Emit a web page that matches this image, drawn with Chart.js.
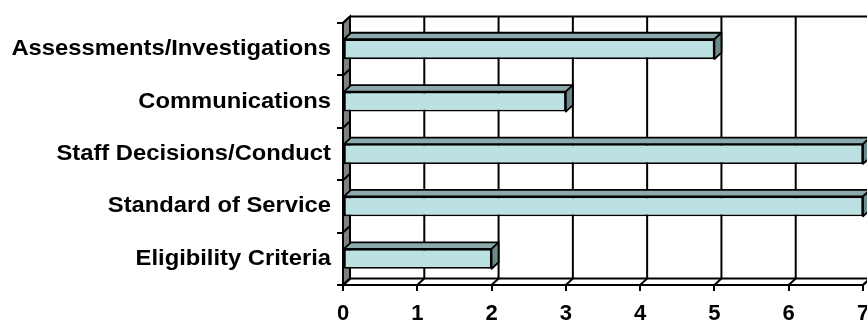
<!DOCTYPE html>
<html lang="en">
<head>
  <meta charset="UTF-8">
  <title>Complaints by category</title>
  <script src="https://cdn.jsdelivr.net/npm/chart.js@4/dist/chart.umd.min.js"></script>
  <style>
    body { margin: 0; background: #fff; }
    #complaints { display: block; }
  </style>
</head>
<body>
  <canvas id="complaints" width="867" height="321"></canvas>
<script>
const categories = [
  'Assessments/Investigations',
  'Communications',
  'Staff Decisions/Conduct',
  'Standard of Service',
  'Eligibility Criteria'
];
const counts = [5, 3, 7, 7, 2];
const xTicks = [0, 1, 2, 3, 4, 5, 6, 7];

// depth of the fake 3d box
const dx = 7;
const dy = 6.5;
const fontFamily = "'Liberation Sans', Arial, sans-serif";

function poly(ctx, pts, fill) {
  ctx.beginPath();
  ctx.moveTo(pts[0][0], pts[0][1]);
  for (let i = 1; i < pts.length; i++) ctx.lineTo(pts[i][0], pts[i][1]);
  ctx.closePath();
  if (fill) {
    ctx.fillStyle = fill;
    ctx.fill();
  }
  ctx.stroke();
}

function line(ctx, x1, y1, x2, y2) {
  ctx.beginPath();
  ctx.moveTo(x1, y1);
  ctx.lineTo(x2, y2);
  ctx.stroke();
}

const box3d = {
  id: 'box3d',
  beforeDatasetsDraw(chart) {
    const ctx = chart.ctx;
    const a = chart.chartArea;
    const x = chart.scales.x;
    const y = chart.scales.y;
    ctx.save();
    ctx.strokeStyle = '#000';
    ctx.lineWidth = 2;

    // back wall gridlines + top edge
    xTicks.forEach(v => {
      const px = x.getPixelForValue(v) + dx;
      line(ctx, px, a.top - dy, px, a.bottom - dy);
    });
    line(ctx, a.left + dx, a.top - dy, chart.width + 10, a.top - dy);

    // floor
    poly(ctx, [[a.left, a.bottom], [a.left + dx, a.bottom - dy],
               [a.right + dx, a.bottom - dy], [a.right, a.bottom]], '#fff');
    xTicks.forEach(v => {
      const px = x.getPixelForValue(v);
      line(ctx, px, a.bottom, px + dx, a.bottom - dy);
    });

    // left wall
    poly(ctx, [[a.left, a.top], [a.left + dx, a.top - dy],
               [a.left + dx, a.bottom - dy], [a.left, a.bottom]], '#808080');
    for (let i = 0; i <= categories.length; i++) {
      const py = y.getPixelForValue(i - 0.5);
      line(ctx, a.left, py, a.left + dx, py - dy);
    }
    ctx.restore();
  },
  afterDatasetsDraw(chart) {
    const ctx = chart.ctx;
    const meta = chart.getDatasetMeta(0);
    ctx.save();
    ctx.strokeStyle = '#000';
    ctx.lineWidth = 1.8;
    ctx.lineJoin = 'round';
    meta.data.forEach(bar => {
      const p = bar.getProps(['x', 'y', 'base', 'height'], true);
      const top = p.y - p.height / 2;
      const bottom = p.y + p.height / 2;
      poly(ctx, [[p.base, top], [p.base + dx, top - dy], [p.x + dx, top - dy], [p.x, top]], '#8ca9ac');
      poly(ctx, [[p.x, top], [p.x + dx, top - dy], [p.x + dx, bottom - dy], [p.x, bottom]], '#6a8a8c');
    });
    ctx.restore();
  },
  afterDraw(chart) {
    // category labels, a bit wider than the plain font like the original
    const ctx = chart.ctx;
    const y = chart.scales.y;
    const right = chart.chartArea.left - 12;
    ctx.save();
    ctx.fillStyle = '#000';
    ctx.font = 'bold 22px ' + fontFamily;
    ctx.textAlign = 'right';
    ctx.textBaseline = 'alphabetic';
    y.ticks.forEach((t, i) => {
      ctx.save();
      ctx.translate(right, y.getPixelForValue(i) + 6);
      ctx.scale(1.08, 1);
      ctx.fillText(y.getLabelForValue(t.value), 0, 0);
      ctx.restore();
    });
    ctx.restore();
  }
};

document.addEventListener('DOMContentLoaded', () => {
  const ctx = document.getElementById('complaints').getContext('2d');
  new Chart(ctx, {
    type: 'bar',
    data: {
      labels: categories,
      datasets: [{
        data: counts,
        backgroundColor: '#bce1e3',
        borderColor: '#000',
        borderWidth: 1.8,
        borderSkipped: false,
        categoryPercentage: 1,
        barPercentage: 0.38
      }]
    },
    options: {
      indexAxis: 'y',
      responsive: false,
      animation: false,
      devicePixelRatio: 1,
      layout: { padding: { top: 23, left: 0, right: 0, bottom: 0 } },
      plugins: { legend: { display: false }, tooltip: { enabled: false } },
      scales: {
        x: {
          min: 0,
          max: 7,
          ticks: {
            stepSize: 1, color: '#000', padding: 10, maxRotation: 0,
            font: { family: fontFamily, size: 22, weight: 'bold' }
          },
          grid: { drawOnChartArea: false, drawTicks: true, tickLength: 6, color: '#000', lineWidth: 2 },
          border: { display: true, color: '#000', width: 2 },
          afterFit(scale) {
            scale.height = 36;
            scale.paddingRight = 4;
            scale.paddingLeft = 0;
          }
        },
        y: {
          ticks: { display: false },
          grid: { drawOnChartArea: false, drawTicks: true, tickLength: 6, color: '#000', lineWidth: 2, offset: true },
          border: { display: true, color: '#000', width: 2 },
          afterFit(scale) {
            scale.width = 343;
            scale.paddingTop = 0;
            scale.paddingBottom = 0;
          }
        }
      }
    },
    plugins: [box3d]
  });
});
</script>
</body>
</html>
